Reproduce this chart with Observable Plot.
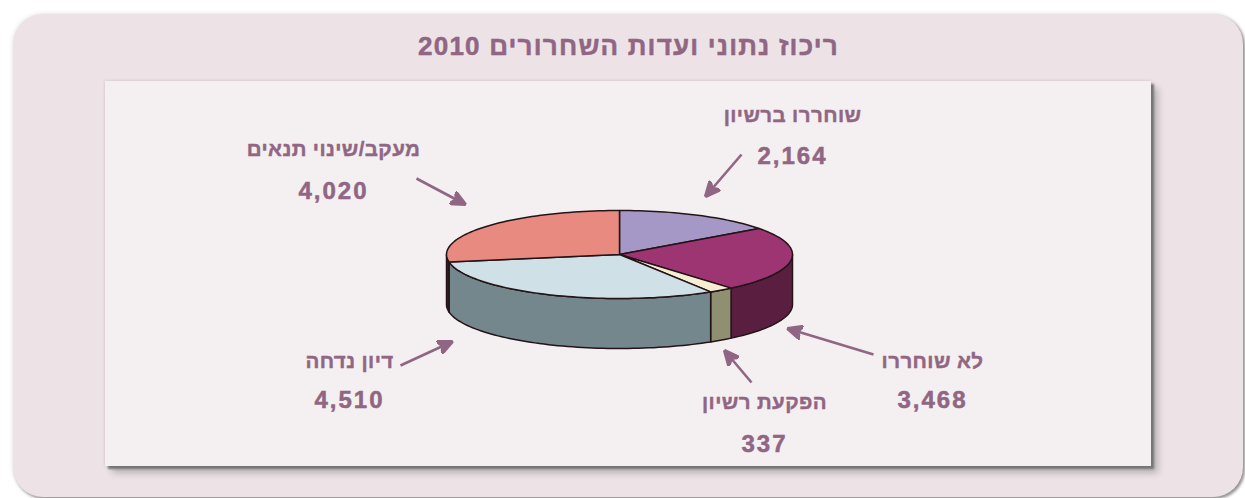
<!DOCTYPE html>
<html lang="he">
<head>
<meta charset="utf-8">
<script src="https://cdn.jsdelivr.net/npm/d3@7"></script>
<script src="https://cdn.jsdelivr.net/npm/@observablehq/plot@0.6"></script>
<style>
html,body{margin:0;padding:0;background:#fff;width:1245px;height:498px;overflow:hidden}
#stage{position:relative;width:1245px;height:498px}
#outer{position:absolute;left:13px;top:14px;width:1230px;height:483px;background:#ede3e7;border-radius:30px;box-shadow:0 0 5px rgba(0,0,0,.12),2px 2px 3px rgba(0,0,0,.4)}
#inner{position:absolute;left:105px;top:81px;width:1046px;height:385px;background:#f4eff0;box-shadow:0 0 3px rgba(120,90,100,.25),3px 3px 2px #777,7px 7px 7px rgba(0,0,0,.22)}
#chart{position:absolute;left:0;top:0}
#chart svg{background:transparent;display:block}
</style>
</head>
<body>
<div id="stage"><div id="outer"></div><div id="inner"></div><div id="chart"></div></div>
<script>
const categories = ["שוחררו ברשיון", "לא שוחררו", "הפקעת רשיון", "דיון נדחה", "מעקב/שינוי תנאים"];
const values = [2164, 3468, 337, 4510, 4020];
const valueLabels = ["2,164", "3,468", "337", "4,510", "4,020"];
const topColors = ["#a598c6", "#9c3571", "#f6eed2", "#cfe0e7", "#e98a80"];
const sideColors = ["#6f6488", "#5a1f40", "#8f8f72", "#73878c", "#2c2226"];
const chartTitle = "ריכוז נתוני ועדות השחרורים 2010";

const labelX = [792, 932, 764, 349, 333];
const labelY = [115, 361, 402, 361, 149];
const numberY = [156, 400, 444, 400, 191];
const arrowFrom = [[741, 154], [873, 354], [751, 382], [400, 365], [416, 178]];
const arrowTo = [[705, 196], [787, 328], [724, 350], [452, 341], [465, 204]];

const ink = "#906683";
const font = "'Liberation Sans', sans-serif";
const cx = 619, cy = 254, rx = 173, ry = 44, depth = 50;

const total = d3.sum(values);
let acc = 0;
const slices = values.map((v, i) => {
  const a0 = acc / total * 2 * Math.PI;
  acc += v;
  return {i, a0, a1: acc / total * 2 * Math.PI};
});
const rim = (a, dy = 0) => [cx + rx * Math.sin(a), cy - ry * Math.cos(a) + dy];
const arc = (a0, a1, dy = 0) => {
  const n = Math.max(2, Math.ceil((a1 - a0) / 0.03));
  return d3.range(n + 1).map(k => rim(a0 + (a1 - a0) * k / n, dy));
};
const paint = {stroke: "#241418", strokeWidth: 1.5, strokeLinejoin: "round", imageFilter: "blur(0.6px)"};

const sideMarks = slices.map(s => {
  const a0 = Math.max(s.a0, Math.PI / 2), a1 = Math.min(s.a1, 3 * Math.PI / 2);
  if (a1 <= a0) return null;
  const pts = [...arc(a0, a1), ...arc(a0, a1, depth).reverse()];
  pts.push(pts[0]);
  return Plot.line(pts, {fill: sideColors[s.i], ...paint});
});
const topMarks = slices.map(s => {
  const pts = [[cx, cy], ...arc(s.a0, s.a1), [cx, cy]];
  return Plot.line(pts, {fill: topColors[s.i], ...paint});
});

function arrowHead(color, context) {
  const ns = "http://www.w3.org/2000/svg";
  const m = context.document.createElementNS(ns, "marker");
  m.setAttribute("viewBox", "-12 -6 13 12");
  m.setAttribute("markerWidth", 16);
  m.setAttribute("markerHeight", 15);
  m.setAttribute("markerUnits", "userSpaceOnUse");
  m.setAttribute("refX", 0);
  m.setAttribute("refY", 0);
  m.setAttribute("orient", "auto");
  const p = context.document.createElementNS(ns, "path");
  p.setAttribute("d", "M0,0L-12,-5.5L-8.5,0L-12,5.5Z");
  p.setAttribute("fill", color);
  m.appendChild(p);
  return m;
}

const rows = categories.map((c, i) => ({c, n: valueLabels[i], x: labelX[i], y: labelY[i], ny: numberY[i], from: arrowFrom[i], to: arrowTo[i]}));

const plot = Plot.plot({
  width: 1245,
  height: 498,
  margin: 0,
  x: {domain: [0, 1245], range: [0, 1245], axis: null},
  y: {domain: [0, 498], range: [0, 498], axis: null},
  style: {background: "transparent", direction: "rtl"},
  marks: [
    ...sideMarks.filter(Boolean),
    ...topMarks,
    Plot.link(rows, {
      x1: d => d.from[0], y1: d => d.from[1], x2: d => d.to[0], y2: d => d.to[1],
      stroke: ink, strokeWidth: 2.6, markerEnd: arrowHead
    }),
    Plot.text([chartTitle], {x: 628, y: 46, text: d => d, fill: ink, stroke: ink, strokeWidth: 0.5, fontSize: 26, fontWeight: 700, fontFamily: font, textAnchor: "middle"}),
    Plot.text(rows, {x: "x", y: "y", text: "c", fill: ink, stroke: ink, strokeWidth: 0.4, fontSize: 20.5, fontWeight: 700, fontFamily: font, textAnchor: "middle"}),
    Plot.text(rows, {x: "x", y: "ny", text: "n", fill: ink, stroke: ink, strokeWidth: 0.5, fontSize: 24, fontWeight: 700, fontFamily: font, textAnchor: "middle"})
  ]
});
const textGroups = plot.querySelectorAll('g[aria-label="text"]');
[1.2, 0.4, 2].forEach((ls, i) => { textGroups[i].style.letterSpacing = ls + "px"; });
document.getElementById("chart").appendChild(plot);
</script>
</body>
</html>
